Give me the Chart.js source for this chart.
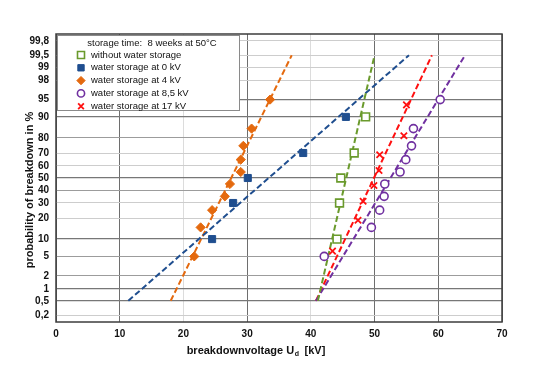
<!DOCTYPE html>
<html>
<head>
<meta charset="utf-8">
<title>breakdown probability</title>
<script src="https://cdn.jsdelivr.net/npm/chart.js@4.4.1/dist/chart.umd.min.js"></script>
<style>
  html, body { margin: 0; padding: 0; background: #fff; }
  canvas { display: block; }
</style>
</head>
<body>
<canvas id="probChart" width="538" height="380"></canvas>
<script>
// values (kV, cumulative %)
const yTicks = [0.2, 0.5, 1, 2, 5, 10, 20, 30, 40, 50, 60, 70, 80, 90, 95, 98, 99, 99.5, 99.8];

const greenKV = [44.1, 44.5, 44.7, 46.8, 48.6];
const greenP  = [10, 30, 50, 70, 90];
const blueKV  = [24.5, 27.8, 30.1, 38.8, 45.5];
const blueP   = [10, 30, 50, 70, 90];
const orangeKV = [21.7, 22.7, 24.5, 26.5, 27.3, 29.0, 29.0, 29.4, 30.7, 33.6];
const orangeP  = [5, 15, 25, 35, 45, 55, 65, 75, 85, 95];
const purpleKV = [42.1, 49.5, 50.8, 51.5, 51.6, 54.0, 54.9, 55.8, 56.1, 60.3];
const purpleP  = [5, 15, 25, 35, 45, 55, 65, 75, 85, 95];
const redKV = [43.4, 47.4, 48.2, 49.9, 50.7, 50.8, 54.6, 55.0];
const redP  = [6.25, 18.75, 31.25, 43.75, 56.25, 68.75, 81.25, 93.75];

// dashed fit lines (end points)
const fitP = [0.5, 99.5];
const greenFitKV  = [41.1, 50.0];
const blueFitKV   = [11.35, 55.4];
const orangeFitKV = [18.0, 37.0];
const redFitKV    = [40.8, 59.0];
const purpleFitKV = [40.8, 64.2];

const labels = [
  'without water storage',
  'water storage at 0 kV',
  'water storage at 4 kV',
  'water storage at 8,5 kV',
  'water storage at 17 kV'
];
const legendTitle = 'storage time:  8 weeks at 50°C';

const FONT = '"Liberation Sans", Arial, Helvetica, sans-serif';

// inverse normal cdf (Acklam) - used for the probability paper axis
function probit(p) {
  const a = [-39.69683028665376, 220.9460984245205, -275.9285104469687, 138.357751867269, -30.66479806614716, 2.506628277459239];
  const b = [-54.47609879822406, 161.5858368580409, -155.6989798598866, 66.80131188771972, -13.28068155288572];
  const c = [-0.007784894002430293, -0.3223964580411365, -2.400758277161838, -2.549732539343734, 4.374664141464968, 2.938163982698783];
  const d = [0.007784695709041462, 0.3224671290700398, 2.445134137142996, 3.754408661907416];
  const pl = 0.02425;
  let q, r;
  if (p < pl) {
    q = Math.sqrt(-2 * Math.log(p));
    return (((((c[0]*q+c[1])*q+c[2])*q+c[3])*q+c[4])*q+c[5]) / ((((d[0]*q+d[1])*q+d[2])*q+d[3])*q+1);
  }
  if (p > 1 - pl) {
    q = Math.sqrt(-2 * Math.log(1 - p));
    return -(((((c[0]*q+c[1])*q+c[2])*q+c[3])*q+c[4])*q+c[5]) / ((((d[0]*q+d[1])*q+d[2])*q+d[3])*q+1);
  }
  q = p - 0.5; r = q * q;
  return (((((a[0]*r+a[1])*r+a[2])*r+a[3])*r+a[4])*r+a[5])*q / (((((b[0]*r+b[1])*r+b[2])*r+b[3])*r+b[4])*r+1);
}

// probability (normal) scale
class ProbitScale extends Chart.Scale {
  determineDataLimits() {
    this.min = this.options.min;
    this.max = this.options.max;
  }
  buildTicks() {
    return yTicks.map(v => ({ value: v }));
  }
  getLabelForValue(v) {
    return String(v).replace('.', ',');
  }
  getPixelForValue(v) {
    const z0 = probit(this.min / 100), z1 = probit(this.max / 100);
    return this.getPixelForDecimal((probit(v / 100) - z0) / (z1 - z0));
  }
  getValueForPixel(px) {
    let lo = this.min, hi = this.max;
    for (let i = 0; i < 40; i++) {
      const mid = (lo + hi) / 2;
      if (this.getPixelForValue(mid) > px) lo = mid; else hi = mid;
    }
    return (lo + hi) / 2;
  }
}
ProbitScale.id = 'probit';
ProbitScale.defaults = {};
Chart.register(ProbitScale);

function pts(kv, p) {
  return kv.map((x, i) => ({ x: x, y: p[i] }));
}

function markers(label, kv, p, color, style, radius, fill, bw) {
  return {
    label: label,
    data: pts(kv, p),
    showLine: false,
    pointStyle: style,
    pointRadius: radius,
    pointBorderWidth: bw,
    pointBorderColor: color,
    pointBackgroundColor: fill,
    inLegend: true
  };
}

function fitLine(kv, color) {
  return {
    data: pts(kv, fitP),
    showLine: true,
    borderColor: color,
    borderWidth: 2,
    borderDash: [6, 3],
    pointRadius: 0,
    inLegend: false
  };
}

const GREEN = '#6a9a2c';
const BLUE = '#1f4e8f';
const ORANGE = '#e4690e';
const PURPLE = '#7030a0';
const RED = '#ff1010';

const darkGrid = [0.5, 1, 10, 50, 90, 95];
const midGrid = [2, 5, 40, 80];

const decor = {
  id: 'decor',
  beforeDatasetsDraw(chart) {
    const { ctx, chartArea: a } = chart;
    ctx.save();
    ctx.strokeStyle = '#3c3c3c';
    ctx.lineWidth = 1.5;
    ctx.strokeRect(a.left, a.top, a.right - a.left, a.bottom - a.top);
    ctx.restore();
  },
  afterDraw(chart) {
    const ctx = chart.ctx;
    ctx.save();

    // legend box
    ctx.fillStyle = '#fff';
    ctx.fillRect(57, 35, 183, 76);
    ctx.strokeStyle = '#8a8a8a';
    ctx.lineWidth = 1;
    ctx.strokeRect(57.5, 35.5, 182, 75);

    ctx.fillStyle = '#111';
    ctx.font = '9.5px ' + FONT;
    ctx.textBaseline = 'middle';
    ctx.textAlign = 'center';
    ctx.fillText(legendTitle, 152, 43);
    ctx.textAlign = 'left';

    let row = 0;
    chart.data.datasets.forEach(ds => {
      if (!ds.inLegend) return;
      const y = 55 + row * 12.8;
      ctx.fillStyle = ds.pointBackgroundColor;
      ctx.strokeStyle = ds.pointBorderColor;
      ctx.lineWidth = ds.pointBorderWidth;
      Chart.helpers.drawPoint(ctx, {
        pointStyle: ds.pointStyle,
        radius: ds.pointRadius * 0.9,
        rotation: 0,
        borderWidth: ds.pointBorderWidth
      }, 81, y);
      ctx.fillStyle = '#111';
      ctx.fillText(ds.label, 91, y);
      row++;
    });

    // y axis title
    ctx.font = 'bold 11px ' + FONT;
    ctx.fillStyle = '#111';
    ctx.translate(30, 190);
    ctx.rotate(-Math.PI / 2);
    ctx.textAlign = 'center';
    ctx.fillText('probability of breakdown in %', 0, 0);
    ctx.setTransform(1, 0, 0, 1, 0, 0);

    // x axis title with subscript
    const p1 = 'breakdownvoltage U', sub = 'd', p2 = '  [kV]';
    ctx.textAlign = 'left';
    ctx.font = 'bold 11px ' + FONT;
    const w1 = ctx.measureText(p1).width, w3 = ctx.measureText(p2).width;
    ctx.font = 'bold 7px ' + FONT;
    const w2 = ctx.measureText(sub).width;
    let x = 256 - (w1 + w2 + w3) / 2;
    ctx.font = 'bold 11px ' + FONT;
    ctx.fillText(p1, x, 351);
    x += w1;
    ctx.font = 'bold 7px ' + FONT;
    ctx.fillText(sub, x + 0.5, 354);
    x += w2;
    ctx.font = 'bold 11px ' + FONT;
    ctx.fillText(p2, x, 351);

    ctx.restore();
  }
};

const ctx = document.getElementById('probChart').getContext('2d');

const probChart = new Chart(ctx, {
  type: 'scatter',
  data: {
    datasets: [
      markers(labels[0], greenKV, greenP, GREEN, 'rect', 5.5, '#fff', 1.6),
      markers(labels[1], blueKV, blueP, BLUE, 'rect', 5, BLUE, 1),
      markers(labels[2], orangeKV, orangeP, ORANGE, 'rectRot', 4.6, ORANGE, 1),
      markers(labels[3], purpleKV, purpleP, PURPLE, 'circle', 4, '#fff', 1.6),
      markers(labels[4], redKV, redP, RED, 'crossRot', 4.5, RED, 1.8),
      fitLine(greenFitKV, GREEN),
      fitLine(blueFitKV, BLUE),
      fitLine(orangeFitKV, ORANGE),
      fitLine(purpleFitKV, PURPLE),
      fitLine(redFitKV, RED)
    ]
  },
  options: {
    responsive: false,
    animation: false,
    events: [],
    layout: { padding: { top: 34, right: 36, bottom: 0, left: 0 } },
    plugins: {
      legend: { display: false },
      tooltip: { enabled: false }
    },
    scales: {
      x: {
        type: 'linear',
        min: 0,
        max: 70,
        afterFit: s => { s.height = 58; },
        border: { display: false },
        grid: {
          drawTicks: false,
          color: c => (c.tick && (c.tick.value === 20 || c.tick.value === 40)) ? '#dcdcdc' : '#6e6e6e',
          lineWidth: 1
        },
        ticks: {
          stepSize: 10,
          padding: 6,
          color: '#111',
          font: { family: FONT, size: 10, weight: 'bold' }
        }
      },
      y: {
        type: 'probit',
        min: 0.126,
        max: 99.874,
        afterFit: s => { s.width = 56; },
        border: { display: false },
        grid: {
          drawTicks: false,
          color: c => {
            const v = c.tick ? c.tick.value : null;
            if (darkGrid.includes(v)) return '#777';
            if (midGrid.includes(v)) return '#9c9c9c';
            return '#cdcdcd';
          },
          lineWidth: c => {
            const v = c.tick ? c.tick.value : null;
            return darkGrid.includes(v) ? 1.3 : 1;
          }
        },
        ticks: {
          autoSkip: false,
          padding: 7,
          color: '#111',
          font: { family: FONT, size: 10, weight: 'bold' },
          callback: v => String(v).replace('.', ',')
        }
      }
    }
  },
  plugins: [decor]
});
</script>
</body>
</html>
